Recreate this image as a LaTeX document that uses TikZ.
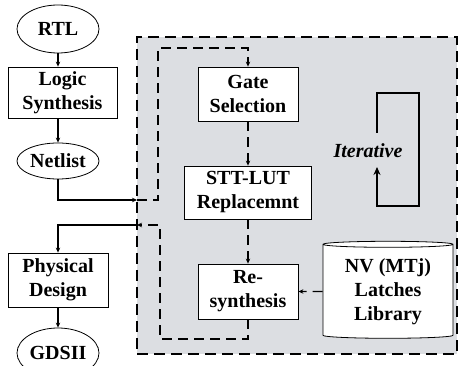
\documentclass[tikz,border=0pt]{standalone}
\usepackage{fontspec}
\setmainfont{Liberation Serif}
\usetikzlibrary{arrows.meta,shapes.geometric}
\definecolor{loopgray}{RGB}{220,222,226}

\begin{document}
\begin{tikzpicture}[x=1pt,y=-1pt,
  lbl/.style={font=\fontsize{20}{24}\selectfont\bfseries,align=center,inner sep=0pt},
  stepbox/.style={lbl,draw,line width=0.8pt,fill=white},
  oval/.style={lbl,draw,ellipse,line width=0.8pt,fill=white},
  arr/.style={line width=1.2pt,-{Stealth[length=5pt,width=4.5pt]}},
  dsh/.style={dash pattern=on 10pt off 6pt}]
  \useasboundingbox (0,0) rectangle (459,366);
  % gray region
  \node[draw,fill=loopgray,line width=1.5pt,dash pattern=on 11pt off 6pt,inner sep=0pt,
        minimum width=320pt,minimum height=317pt] (region) at (297,195.5){};
  % left flow
  \node[oval,minimum width=82pt,minimum height=48pt] (rtl) at (58,29){RTL};
  \node[stepbox,minimum width=109pt,minimum height=51pt] (lsyn) at (62.5,92.5){Logic\\Synthesis};
  \node[oval,minimum width=82pt,minimum height=36pt] (netl) at (58,161){Netlist};
  \node[stepbox,minimum width=100pt,minimum height=54pt] (phys) at (58,280){Physical\\Design};
  \node[oval,minimum width=82pt,minimum height=50pt] (gds) at (58,353){GDSII};
  % inner flow
  \node[stepbox,minimum width=100pt,minimum height=54pt] (gate) at (248,94){Gate\\Selection};
  \node[stepbox,minimum width=127pt,minimum height=53pt] (stt) at (248,192.5){STT-LUT\\Replacemnt};
  \node[stepbox,minimum width=100pt,minimum height=55pt] (resyn) at (248,291.5){Re-\\synthesis};
  \node[lbl,draw,fill=white,line width=0.8pt,cylinder,shape border rotate=90,aspect=0.07,
        minimum width=130pt,minimum height=97pt] (lib) at (388,291.5){NV (MTj)\\Latches\\Library};
  \node[lbl,font=\fontsize{20}{24}\selectfont\bfseries\itshape] (iter) at (368,151){Iterative};
  % connectors
  \coordinate (in1) at (137,200);
  \coordinate (out1) at (137,225);
  \coordinate (c1) at (158,48);
  \coordinate (c2) at (160,339);
  \draw[arr] (rtl) -- (rtl.south |- lsyn.north);
  \draw[arr] (lsyn.south -| rtl) -- (netl);
  \draw[arr] (netl) |- (in1);
  \draw[arr,dsh] (in1) -| (c1) -| (gate);
  \draw[arr,dsh] (gate) -- (stt);
  \draw[arr,dsh] (stt) -- (resyn);
  \draw[arr,dsh] (lib) -- (resyn);
  \draw[arr,dsh] (resyn) |- (c2) |- (out1);
  \draw[arr] (out1) -| (phys);
  \draw[arr] (phys) -- (gds);
  % iterative loop
  \coordinate (lp1) at (377,93);
  \coordinate (lp2) at (419,206);
  \draw[line width=2pt,-{Stealth[length=8pt,width=7pt]}] (377,133) -- (lp1) -| (lp2) -| (377,167);
\end{tikzpicture}
\end{document}
